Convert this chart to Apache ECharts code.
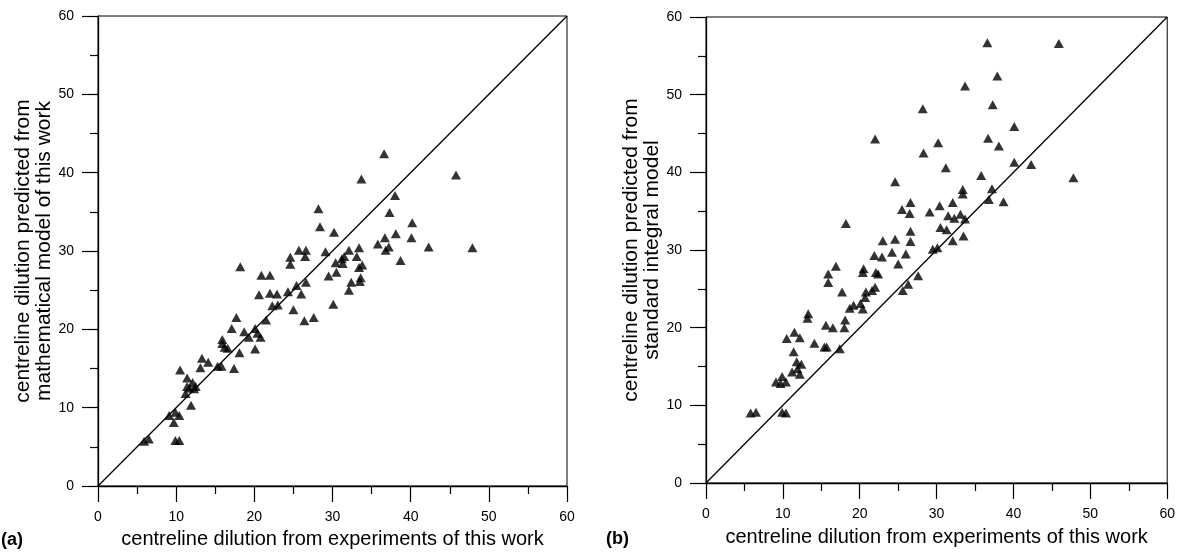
<!DOCTYPE html>
<html>
<head>
<meta charset="utf-8">
<script src="https://cdn.jsdelivr.net/npm/echarts@6/dist/echarts.min.js"></script>
<style>
html,body{margin:0;padding:0;background:#fff;}
#chart{width:1178px;height:554px;}
</style>
</head>
<body>
<div id="chart"></div>
<script>
// ---- data ----
const axisTicks = [0, 10, 20, 30, 40, 50, 60];
const diagonal = [[0, 0], [60, 60]];
const xTitle = 'centreline dilution from experiments of this work';
const yTitleA = 'centreline dilution predicted from\nmathematical model of this work';
const yTitleB = 'centreline dilution predicted from\nstandard integral model';
const panelLabels = ['(a)', '(b)'];

const pointsA = [
  [5.9,5.7],[6.5,6.0],[9.9,5.8],[10.4,5.8],
  [9.7,8.1],[9.1,9.0],[10.4,9.0],[9.9,9.4],
  [11.9,10.3],[10.5,14.8],
  [11.4,13.8],[12.1,13.2],[11.4,12.7],[11.7,12.5],[11.2,11.8],[12.5,12.7],[12.3,12.4],
  [13.3,16.3],[14.1,15.8],[13.1,15.1],
  [15.3,15.3],[15.8,15.3],
  [15.9,18.7],[15.9,18.2],[16.2,17.7],[16.6,17.6],
  [17.4,15.0],[18.1,17.0],
  [17.1,20.1],[17.7,21.5],[18.7,19.7],[19.3,19.0],
  [18.2,28.0],
  [20.1,20.1],[20.4,19.5],[20.8,19.0],[20.1,17.5],
  [20.6,24.4],[20.9,26.9],[22.0,26.9],
  [21.5,21.2],[22.3,23.0],[23.0,23.1],
  [22.0,24.6],[22.9,24.5],[24.3,24.8],
  [24.6,29.2],[24.6,28.3],
  [25.0,22.5],[25.4,25.6],[26.0,24.5],[26.6,26.0],
  [25.7,30.1],[26.6,30.1],[26.5,29.3],
  [26.4,21.1],[27.6,21.5],
  [28.2,35.4],[28.4,33.1],
  [29.1,29.9],[29.5,26.8],
  [30.1,23.2],[30.2,32.4],[30.5,27.3],[30.4,28.5],[31.3,28.4],[31.2,29.0],[31.5,29.3],
  [32.1,30.1],[33.4,30.4],[33.1,29.3],
  [33.8,28.2],[33.4,27.9],[33.6,26.6],[33.5,26.1],[32.4,26.0],[32.1,25.0],
  [33.7,39.2],
  [35.8,30.9],[36.7,31.7],[37.2,30.5],[36.8,30.1],
  [36.6,42.4],[37.3,34.9],[38.0,37.1],[38.1,32.2],[38.7,28.8],
  [40.2,33.6],[40.1,31.7],
  [42.3,30.5],
  [45.8,39.7],[47.9,30.4]
];

const pointsB = [
  [5.8,9.0],[6.5,9.1],[9.9,9.1],[10.4,9.0],
  [9.1,13.0],[9.9,13.7],[10.4,13.0],[9.7,12.8],
  [10.5,18.6],[11.5,19.4],[12.2,18.7],[11.4,16.9],
  [11.8,15.6],[12.4,15.3],[11.2,14.3],[11.9,14.7],[12.2,14.0],
  [13.3,21.8],[13.2,21.2],[14.1,18.0],
  [15.4,17.5],[15.7,17.5],[15.6,20.3],[16.5,20.0],
  [15.9,26.9],[15.9,25.8],[16.9,27.9],
  [17.4,17.3],[18.1,21.0],[18.0,20.0],[17.7,24.6],
  [18.2,33.4],
  [18.7,22.5],[19.2,22.9],[20.1,23.1],[20.4,22.4],[20.7,23.9],[20.8,24.6],[21.6,24.8],[22.0,25.2],
  [20.5,27.6],[20.4,27.1],[22.1,27.1],[22.4,26.9],
  [21.9,29.3],[22.9,29.1],
  [22.0,44.3],
  [23.0,31.2],[24.6,31.4],[24.2,29.7],[26.0,29.5],[25.0,28.2],
  [24.6,38.8],
  [25.6,24.8],[26.3,25.6],[27.6,26.7],
  [25.5,35.2],[26.6,36.1],[26.5,34.7],[26.6,32.4],[26.6,31.1],
  [28.2,48.2],[28.3,42.5],
  [29.1,34.9],[30.4,35.7],[29.5,30.1],[30.1,30.3],
  [30.2,43.8],[31.2,40.6],
  [30.5,32.9],[31.3,32.6],
  [31.5,34.4],[32.3,34.1],[33.1,34.6],[33.7,34.0],
  [32.1,36.1],[32.1,31.2],[33.5,31.8],
  [33.4,37.8],[33.4,37.2],
  [33.7,51.1],
  [35.8,39.6],
  [36.6,56.7],[37.3,48.7],[36.7,44.4],[38.1,43.4],[37.9,52.4],
  [37.2,37.9],[36.8,36.5],[38.7,36.2],
  [40.1,45.9],[40.1,41.3],[42.3,41.0],
  [45.9,56.6],[47.8,39.3]
];

// ---- chart ----
const FONT = '"Liberation Sans", Arial, sans-serif';
const chart = echarts.init(document.getElementById('chart'), null, {renderer: 'canvas'});

function makeAxis(gridIndex, name, nameGap, nameSize) {
  return {
    type: 'value', gridIndex: gridIndex,
    min: axisTicks[0], max: axisTicks[axisTicks.length - 1], interval: 10,
    name: name, nameLocation: 'middle', nameGap: nameGap,
    nameTextStyle: {fontFamily: FONT, fontSize: nameSize, color: '#000', lineHeight: nameSize},
    axisLine: {show: true, onZero: false, lineStyle: {color: '#000', width: 1.3}},
    axisTick: {show: true, inside: false, length: 16, lineStyle: {color: '#000', width: 1.2}},
    minorTick: {show: true, splitNumber: 2, length: 8, lineStyle: {color: '#000', width: 1.2}},
    splitLine: {show: false},
    axisLabel: {show: true, margin: 24, fontFamily: FONT, fontSize: 14, color: '#000',
      formatter: function (v) { return axisTicks.indexOf(v) >= 0 ? String(v) : ''; }}
  };
}

const option = {
  animation: false,
  backgroundColor: '#fff',
  grid: [
    {left: 98, top: 16, width: 469, height: 471, show: true, borderColor: '#000', borderWidth: 1, backgroundColor: 'transparent'},
    {left: 706, top: 17, width: 462, height: 466, show: true, borderColor: '#000', borderWidth: 1, backgroundColor: 'transparent'}
  ],
  xAxis: [
    makeAxis(0, xTitle, 43, 20),
    makeAxis(1, xTitle, 44, 20)
  ],
  yAxis: [
    makeAxis(0, yTitleA, 32, 21),
    makeAxis(1, yTitleB, 30, 21)
  ],
  graphic: [
    {type: 'text', left: 1, top: 531, style: {text: panelLabels[0], font: 'bold 18px ' + FONT, fill: '#000'}},
    {type: 'text', left: 606, top: 530, style: {text: panelLabels[1], font: 'bold 18px ' + FONT, fill: '#000'}}
  ],
  series: [
    {type: 'line', xAxisIndex: 0, yAxisIndex: 0, data: diagonal, showSymbol: false, symbol: 'none',
      lineStyle: {color: '#000', width: 1.3}, silent: true, z: 1},
    {type: 'line', xAxisIndex: 1, yAxisIndex: 1, data: diagonal, showSymbol: false, symbol: 'none',
      lineStyle: {color: '#000', width: 1.3}, silent: true, z: 1},
    {type: 'scatter', xAxisIndex: 0, yAxisIndex: 0, data: pointsA, symbol: 'triangle', symbolSize: [10, 9],
      itemStyle: {color: '#000'}, z: 3},
    {type: 'scatter', xAxisIndex: 1, yAxisIndex: 1, data: pointsB, symbol: 'triangle', symbolSize: [10, 9],
      itemStyle: {color: '#000'}, z: 3}
  ]
};
chart.setOption(option);
</script>
</body>
</html>
